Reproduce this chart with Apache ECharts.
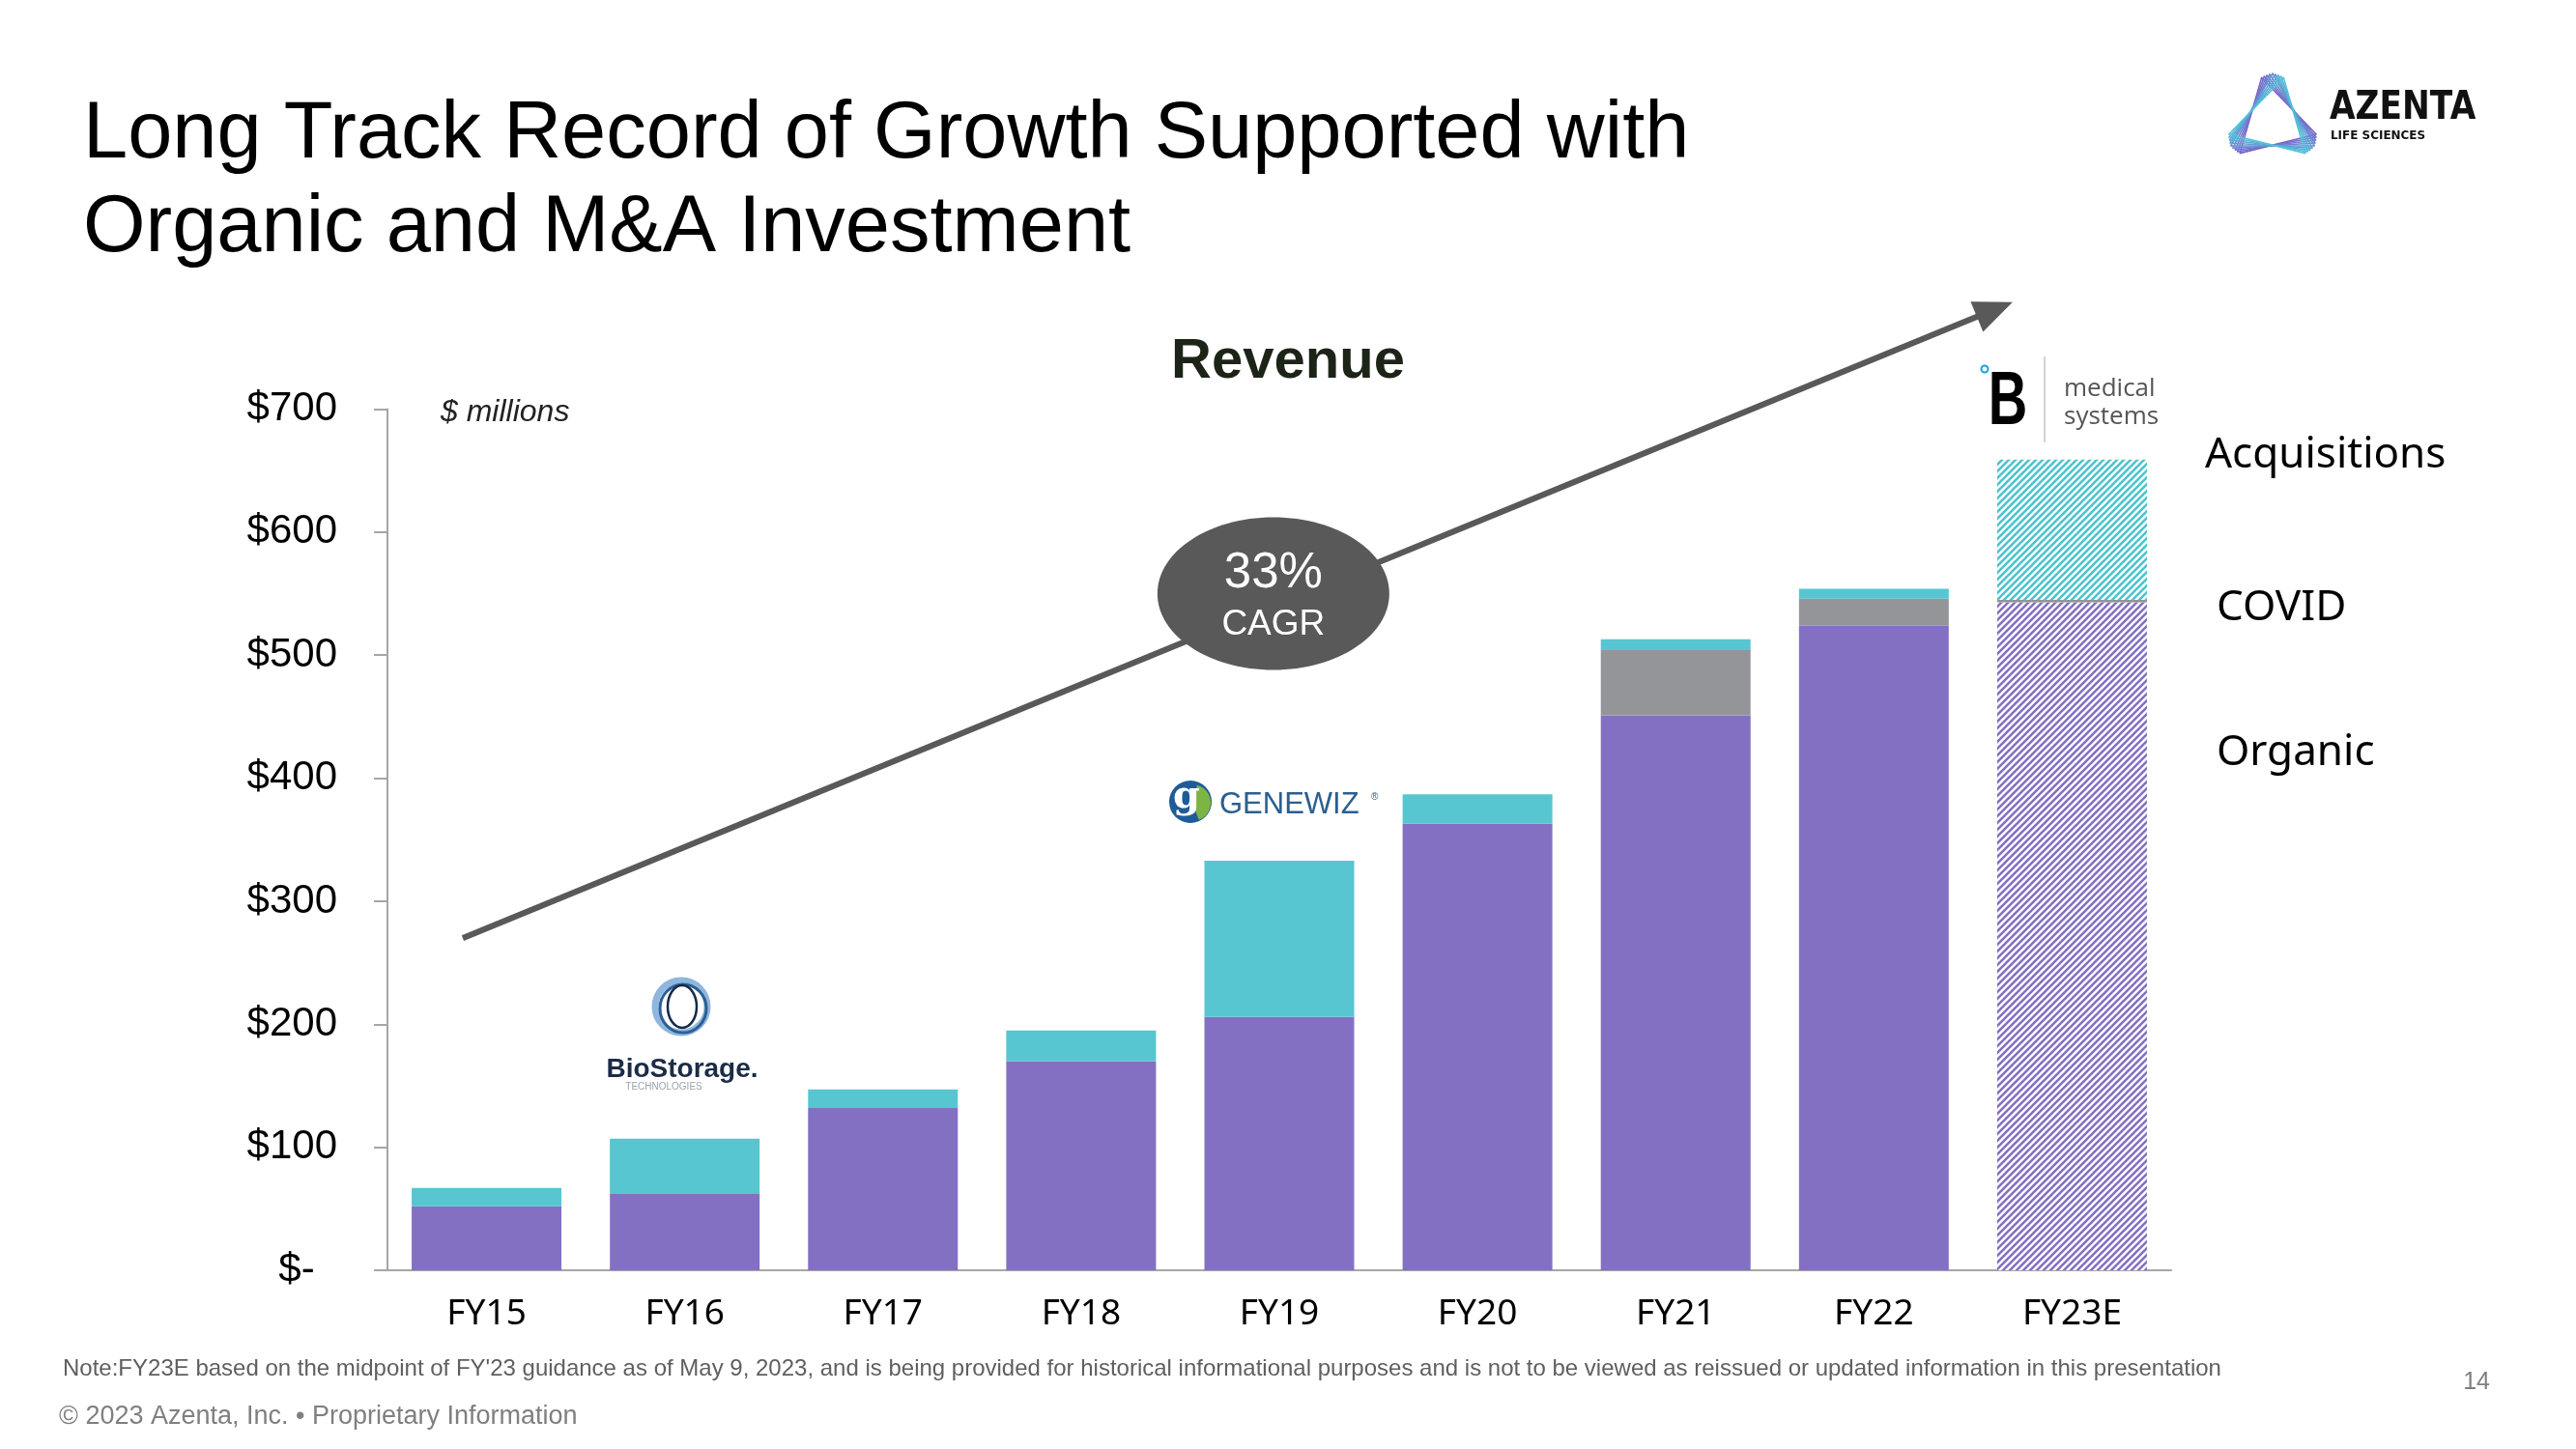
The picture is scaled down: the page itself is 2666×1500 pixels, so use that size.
<!DOCTYPE html>
<html><head><meta charset="utf-8">
<script src="https://cdn.jsdelivr.net/npm/echarts@6/dist/echarts.min.js"></script>
<style>html,body{margin:0;padding:0;background:#fff}#c{width:2666px;height:1500px}</style>
</head><body><div id="c"></div>
<script>
// ---------- data ----------
const categories   = ['FY15','FY16','FY17','FY18','FY19','FY20','FY21','FY22','FY23E'];
const organic      = [52, 62, 132, 170, 206, 363, 451, 524, 543];
const covid        = [0, 0, 0, 0, 0, 0, 53, 22, 2];
const acquisitions = [15, 45, 15, 25, 127, 24, 9, 8, 114];
const estimateCategory = 'FY23E';           // drawn hatched
const yMin = 0, yMax = 700, yInterval = 100;
const seriesNames = ['Organic', 'COVID', 'Acquisitions'];
const cagrLines = ['33%', 'CAGR'];
// annotation anchors in data space: [category index, value]
const arrowFrom = [-0.12, 270];
const arrowTo   = [7.70, 787];
const cagrAt    = [3.97, 550];

// ---------- styles ----------
const PURPLE = '#8470C3', TEAL = '#57C6D0', GRAY = '#939598', AXIS = '#A6A6A6', DARK = '#595959';
function hatch(color){
  const s = 7;
  const c = document.createElement('canvas'); c.width = s; c.height = s;
  const g = c.getContext('2d');
  g.fillStyle = '#fff'; g.fillRect(0,0,s,s);
  g.strokeStyle = color; g.lineWidth = 2.6; g.lineCap = 'square';
  g.beginPath();
  g.moveTo(0,s); g.lineTo(s,0);
  g.moveTo(-s/2,s/2); g.lineTo(s/2,-s/2);
  g.moveTo(s/2,s*1.5); g.lineTo(s*1.5,s/2);
  g.stroke();
  return {image: c, repeat: 'repeat'};
}
const estIdx = categories.indexOf(estimateCategory);
function withHatch(arr, color){
  return arr.map((v,i) => i === estIdx ? {value: v, itemStyle: {color: hatch(color)}} : v);
}

const chart = echarts.init(document.getElementById('c'), null, {renderer: 'canvas'});

function T(text, x, y, o){
  o = o || {};
  return {type:'text', x:x, y:y, z:o.z||50, scaleX:o.scaleX||1, silent:true,
    style:{text:text, fill:o.fill||'#000', fontSize:o.size||20, fontFamily:o.family||'"Liberation Sans", Arial, sans-serif',
      fontWeight:o.weight||'normal', fontStyle:o.style||'normal',
      textAlign:o.align||'left', align:o.align||'left', textVerticalAlign:'middle', verticalAlign:'middle'}};
}

// Azenta logo triangles
const azTri = [];
(function(){
  const cx = 2352, cy = 126, R = 50, n = 9;
  const c1 = [123, 97, 201], c2 = [79, 195, 217];
  for (let k = 0; k < n; k++){
    const t = k/(n-1);
    const rot = (-14 + 28*t) * Math.PI/180;
    const r = R - 3*Math.abs(t-0.5)*2;
    const pts = [];
    for (let j = 0; j < 3; j++){
      const a = -Math.PI/2 + rot + j*2*Math.PI/3;
      pts.push([cx + r*Math.cos(a), cy + r*Math.sin(a)]);
    }
    const col = 'rgb(' + c1.map((v,i)=>Math.round(v+(c2[i]-v)*t)).join(',') + ')';
    azTri.push({type:'polygon', silent:true, shape:{points:pts}, style:{fill:'none', stroke:col, lineWidth:1.6, lineJoin:'round'}});
  }
})();

const staticGraphics = [
  T('Long Track Record of Growth Supported with', 86, 140, {size:83}),
  T('Organic and M&A Investment', 86, 237, {size:83}),
  T('Revenue', 1333, 375, {size:58, weight:'bold', align:'center', fill:'#1c2418'}),
  T('$ millions', 456, 427, {size:32, style:'italic', fill:'#222'}),
  T('Acquisitions', 2282, 471, {size:44, family:'"Noto Sans", sans-serif'}),
  T('COVID', 2294, 629, {size:44, family:'"Noto Sans", sans-serif'}),
  T('Organic', 2294, 779, {size:44, family:'"Noto Sans", sans-serif'}),
  T("Note:FY23E based on the midpoint of FY'23 guidance as of May 9, 2023, and is being provided for historical informational purposes and is not to be viewed as reissued or updated information in this presentation", 65, 1417, {size:24, fill:'#5f5f5f'}),
  T('14', 2577, 1431, {size:25, fill:'#7f7f7f', align:'right'}),
  T('\u00A9 2023 Azenta, Inc. \u2022 Proprietary Information', 61, 1467, {size:27, fill:'#7f7f7f'}),
  // Azenta logo
  ...azTri,
  T('AZENTA', 2411, 113, {size:40, weight:'bold', fill:'#111', family:'"DejaVu Sans", sans-serif', scaleX:0.86}),
  T('LIFE SCIENCES', 2412, 141, {size:13, weight:'bold', fill:'#111', family:'"DejaVu Sans", sans-serif', scaleX:0.92}),
  // BioStorage logo
  {type:'ellipse', silent:true, z:50, shape:{cx:705, cy:1042, rx:27, ry:27}, style:{fill:'none', stroke:'#8fb6de', lineWidth:7}},
  {type:'ellipse', silent:true, z:51, shape:{cx:707, cy:1044, rx:24, ry:25}, style:{fill:'none', stroke:'#2c5f95', lineWidth:3}},
  {type:'ellipse', silent:true, z:51, shape:{cx:706, cy:1042, rx:15, ry:22}, style:{fill:'none', stroke:'#152a48', lineWidth:2.5}},
  T('BioStorage.', 706, 1107, {size:28, weight:'bold', fill:'#1b2c47', align:'center'}),
  T('TECHNOLOGIES', 687, 1125, {size:10, fill:'#9aa3ad', align:'center', scaleX:1.0}),
  // GENEWIZ logo
  {type:'circle', silent:true, z:50, shape:{cx:1232, cy:830, r:22}, style:{fill:'#1f5b98'}},
  {type:'sector', silent:true, z:51, shape:{cx:1234, cy:831, r0:0, r:19, startAngle:-Math.PI/2.4, endAngle:Math.PI/2.6}, style:{fill:'#7db544'}},
  T('g', 1228, 826, {size:40, weight:'bold', fill:'#fff', align:'center', family:'"DejaVu Serif", serif', z:52}),
  T('GENEWIZ', 1262, 833, {size:31, fill:'#2b5f8e', family:'"Liberation Sans", sans-serif'}),
  T('\u00AE', 1419, 825, {size:10, fill:'#2b5f8e'}),
  // B medical systems logo
  {type:'circle', silent:true, z:50, shape:{cx:2054, cy:382, r:3.5}, style:{fill:'none', stroke:'#1aa0dc', lineWidth:2}},
  {type:'text', x:2078, y:417, z:50, scaleX:0.72, silent:true, style:{text:'B', fontSize:78, fontWeight:'bold', fontFamily:'"Liberation Sans", sans-serif',
      fill:new echarts.graphic.LinearGradient(0,0,0,1,[{offset:0,color:'#1ea3e0'},{offset:1,color:'#0d57a5'}]),
      textAlign:'center', align:'center', textVerticalAlign:'middle', verticalAlign:'middle'}},
  {type:'line', silent:true, z:50, shape:{x1:2116, y1:369, x2:2116, y2:458}, style:{stroke:'#c4c4c4', lineWidth:1.5}},
  T('medical', 2136, 403, {size:26, fill:'#555', family:'"Open Sans", sans-serif'}),
  T('systems', 2136, 432, {size:26, fill:'#555', family:'"Open Sans", sans-serif'})
];

const option = {
  backgroundColor: '#fff',
  animation: false,
  grid: {left: 401, right: 419, top: 423.5, bottom: 185, containLabel: false, outerBoundsMode: 'none'},
  xAxis: {
    type: 'category', data: categories,
    axisLine: {show: true, lineStyle: {color: AXIS, width: 2}},
    axisTick: {show: false},
    axisLabel: {color: '#000', fontSize: 37, fontFamily: '"Noto Sans", sans-serif', margin: 27}
  },
  yAxis: {
    type: 'value', min: yMin, max: yMax, interval: yInterval,
    splitLine: {show: false},
    axisLine: {show: true, lineStyle: {color: AXIS, width: 2}},
    axisTick: {show: true, inside: false, length: 14, lineStyle: {color: AXIS, width: 2}},
    axisLabel: {color: '#000', fontSize: 42, fontFamily: '"Liberation Sans", Arial, sans-serif', margin: 52,
      formatter: v => v === 0 ? '$-  ' : '$' + v}
  },
  series: [
    {name: seriesNames[0], type: 'bar', stack: 'rev', barWidth: 155, itemStyle: {color: PURPLE}, data: withHatch(organic, PURPLE)},
    {name: seriesNames[1], type: 'bar', stack: 'rev', barWidth: 155, itemStyle: {color: GRAY}, data: covid},
    {name: seriesNames[2], type: 'bar', stack: 'rev', barWidth: 155, itemStyle: {color: TEAL}, data: withHatch(acquisitions, '#4cc4cc')}
  ],
  graphic: staticGraphics
};
chart.setOption(option);

// annotations positioned through the axes
function toPx(pt){
  const p0 = chart.convertToPixel({xAxisIndex: 0}, 0);
  const p1 = chart.convertToPixel({xAxisIndex: 0}, 1);
  const x = p0 + pt[0]*(p1 - p0);
  const y = chart.convertToPixel({yAxisIndex: 0}, pt[1]);
  return [x, y];
}
const a = toPx(arrowFrom), b = toPx(arrowTo), c = toPx(cagrAt);
const dx = b[0]-a[0], dy = b[1]-a[1], len = Math.hypot(dx, dy);
const ux = dx/len, uy = dy/len, px = -uy, py = ux;
const HL = 40, HW = 34;
const base = [b[0]-ux*HL, b[1]-uy*HL];
const dyn = [
  {id:'arrowLine', type:'line', silent:true, z:40, shape:{x1:a[0], y1:a[1], x2:base[0]+ux*4, y2:base[1]+uy*4}, style:{stroke:DARK, lineWidth:6}},
  {id:'arrowHead', type:'polygon', silent:true, z:40, shape:{points:[b, [base[0]+px*HW/2, base[1]+py*HW/2], [base[0]-px*HW/2, base[1]-py*HW/2]]}, style:{fill:DARK}},
  {id:'cagrEllipse', type:'ellipse', silent:true, z:45, shape:{cx:c[0], cy:c[1], rx:120, ry:79}, style:{fill:DARK}},
  Object.assign(T(cagrLines[0], c[0], c[1]-21, {size:51, fill:'#fff', align:'center', z:46}), {id:'cagr1'}),
  Object.assign(T(cagrLines[1], c[0], c[1]+32, {size:37, fill:'#fff', align:'center', z:46}), {id:'cagr2'})
];
chart.setOption({graphic: staticGraphics.concat(dyn)}, {replaceMerge: ['graphic']});
</script></body></html>
